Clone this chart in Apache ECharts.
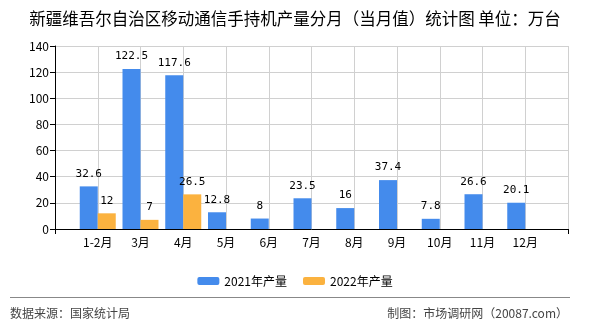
<!DOCTYPE html>
<html>
<head>
<meta charset="utf-8">
<script src="https://cdn.jsdelivr.net/npm/echarts@6/dist/echarts.min.js"></script>
<style>html,body{margin:0;padding:0;background:#fff;}#c{width:590px;height:330px;}</style>
</head>
<body>
<div id="c"></div>
<script>
var categories = ['1-2月','3月','4月','5月','6月','7月','8月','9月','10月','11月','12月'];
var values2021 = [32.6,122.5,117.6,12.8,8,23.5,16,37.4,7.8,26.6,20.1];
var values2022 = [12,7,26.5,null,null,null,null,null,null,null,null];
var yTicks = [0,20,40,60,80,100,120,140];
var seriesNames = ['2021年产量','2022年产量'];

var cats = [''].concat(categories).concat(['']);
function pad(a){ return ['-'].concat(a.map(function(v){return v==null?'-':v;})).concat(['-']); }

var cjk = '"Noto Sans CJK SC", "Noto Sans", sans-serif';
var mono = '"DejaVu Sans Mono", "Liberation Mono", monospace';
var chart = echarts.init(document.getElementById('c'));
var labelStyle = {show:true, position:'top', distance:7, color:'#000', fontFamily:mono, fontSize:11};
chart.setOption({
  backgroundColor:'#fff',
  animation:false,
  title:{text:'新疆维吾尔自治区移动通信手持机产量分月（当月值）统计图 单位：万台', left:'center', top:5,
    textStyle:{fontFamily:cjk, fontSize:16.5, fontWeight:'normal', color:'#000'}},
  legend:{data:seriesNames, left:'center', top:270, itemWidth:22, itemHeight:8, itemGap:16,
    textStyle:{fontFamily:cjk, fontSize:12, color:'#000'}},
  grid:{left:55, right:22, top:46, bottom:101},
  xAxis:{type:'category', data:cats, boundaryGap:false,
    axisLine:{lineStyle:{color:'#000', width:1}},
    axisTick:{show:true, length:5, lineStyle:{color:'#000'}, interval:function(i){return i===0||i===cats.length-1;}},
    axisLabel:{interval:0, margin:7, color:'#000', fontFamily:cjk, fontSize:12},
    splitLine:{show:true, lineStyle:{color:'#d0d0d0', width:1}}},
  yAxis:{type:'value', min:yTicks[0], max:yTicks[yTicks.length-1], interval:20,
    axisLine:{show:true, lineStyle:{color:'#000'}},
    axisTick:{show:true, length:5, lineStyle:{color:'#000'}},
    axisLabel:{margin:6, color:'#000', fontFamily:cjk, fontSize:12},
    splitLine:{show:true, lineStyle:{color:'#d0d0d0', width:1}}},
  series:[
    {name:seriesNames[0], type:'bar', data:pad(values2021), barWidth:18, barGap:0, itemStyle:{color:'#448bec'}, label:labelStyle},
    {name:seriesNames[1], type:'bar', data:pad(values2022), barWidth:18, barGap:0, itemStyle:{color:'#fbb23f'}, label:labelStyle}
  ],
  graphic:[
    {type:'line', shape:{x1:10, y1:297.5, x2:570, y2:297.5}, style:{stroke:'#888', lineWidth:1}},
    {type:'text', left:10, top:307, style:{text:'数据来源：国家统计局', fill:'#444', font:'12px '+cjk}},
    {type:'text', right:22, top:307, style:{text:'制图：市场调研网（20087.com）', fill:'#444', font:'12px '+cjk}}
  ]
});
</script>
</body>
</html>
